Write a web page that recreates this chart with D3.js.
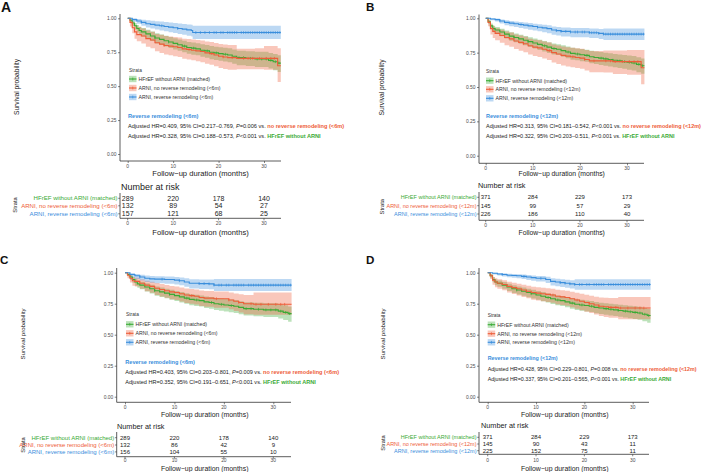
<!DOCTYPE html>
<html><head><meta charset="utf-8">
<script src="https://cdn.jsdelivr.net/npm/d3@7"></script>
<style>
body{margin:0;background:#fff}
svg{display:block}
text{font-family:"Liberation Sans",Arial,sans-serif}
</style>
</head><body>
<svg id="c" width="709" height="472"></svg>
<script>
// ---------------- DATA ----------------
// Kaplan–Meier step data: [time (months), survival, lower 95% CI, upper 95% CI]
const kmHFrEF6 = [[0,1,1,1],[0.5,.986,.972,.997],[1,.965,.943,.98],[1.5,.945,.918,.965],[2,.925,.895,.95],[2.5,.91,.878,.937],[3,.9,.866,.928],[4,.885,.849,.915],[5,.87,.832,.902],[6,.855,.815,.889],[7,.845,.804,.88],[8,.835,.793,.871],[9,.825,.782,.862],[10,.815,.771,.853],[11,.805,.76,.844],[12,.795,.749,.835],[13,.785,.738,.826],[14,.78,.732,.822],[15,.775,.727,.817],[16,.765,.716,.808],[17,.76,.71,.804],[18,.75,.699,.795],[19,.745,.693,.791],[20,.74,.688,.787],[21,.735,.682,.783],[22,.73,.676,.779],[23,.72,.665,.77],[24,.71,.654,.761],[26,.705,.648,.757],[28,.7,.642,.753],[31,.69,.63,.745],[32,.68,.618,.737],[33,.67,.604,.728],[33.7,.67,.604,.728]];
const kmNoRev6A = [[0,1,1,1],[0.5,.97,.94,.99],[1,.93,.89,.97],[1.5,.9,.85,.95],[2,.88,.83,.935],[3,.87,.815,.925],[4,.85,.79,.91],[5,.84,.78,.9],[6,.82,.757,.885],[7,.81,.745,.878],[8,.8,.733,.87],[9,.795,.727,.866],[10,.79,.72,.862],[11,.785,.714,.858],[12,.775,.702,.85],[13,.77,.696,.847],[14,.765,.69,.843],[15,.76,.683,.84],[16,.755,.677,.836],[17,.745,.665,.829],[18,.74,.658,.826],[19,.73,.646,.818],[20,.72,.633,.81],[21,.715,.626,.807],[22,.71,.62,.803],[24,.705,.625,.775],[28,.705,.625,.78],[30,.705,.62,.795],[33,.65,.53,.78],[33.7,.65,.53,.78]];
const kmRev6A = [[0,1,1,1],[1,.99,.975,1],[2,.98,.96,.995],[3,.97,.946,.99],[4,.96,.932,.985],[5,.955,.925,.982],[6,.95,.918,.979],[7,.945,.911,.976],[8,.94,.904,.972],[9,.935,.898,.969],[10,.93,.892,.965],[11,.925,.885,.962],[12,.92,.879,.958],[13,.915,.872,.955],[14,.91,.866,.952],[14.3,.895,.848,.945],[33.7,.895,.848,.945]];

const kmHFrEF12 = [[0,1,1,1],[0.5,.975,.96,.99],[1,.945,.922,.963],[1.5,.925,.899,.946],[2,.915,.887,.937],[3,.9,.87,.924],[4,.885,.853,.911],[5,.87,.836,.898],[6,.86,.825,.889],[7,.85,.814,.88],[8,.84,.803,.871],[9,.83,.792,.862],[10,.82,.781,.853],[11,.81,.77,.844],[12,.8,.759,.835],[13,.79,.748,.826],[14,.78,.737,.817],[15,.775,.732,.812],[16,.765,.721,.803],[17,.755,.71,.794],[18,.745,.699,.785],[19,.74,.694,.781],[20,.735,.688,.776],[21,.73,.683,.772],[22,.72,.672,.763],[23,.715,.667,.758],[24,.71,.661,.754],[25,.705,.655,.75],[26,.7,.65,.745],[27,.695,.644,.741],[28,.69,.638,.737],[29,.685,.632,.733],[30,.68,.626,.729],[31,.675,.62,.725],[32,.665,.608,.716],[33,.655,.596,.708],[33.7,.655,.596,.708]];
const kmNoRev12B = [[0,1,1,1],[0.5,.97,.942,.99],[1,.925,.882,.955],[1.5,.905,.857,.94],[2,.89,.84,.928],[3,.875,.822,.916],[4,.86,.804,.904],[5,.85,.793,.896],[6,.835,.776,.883],[7,.825,.764,.874],[8,.815,.753,.865],[9,.8,.736,.852],[10,.79,.725,.844],[11,.785,.719,.84],[12,.775,.708,.831],[13,.765,.696,.823],[14,.75,.679,.81],[15,.74,.667,.802],[16,.73,.656,.794],[17,.725,.65,.79],[18,.72,.644,.786],[19,.715,.638,.782],[20,.71,.632,.778],[21,.7,.62,.77],[22,.69,.608,.762],[25,.69,.605,.765],[27,.685,.595,.765],[30,.685,.59,.77],[33,.64,.52,.77],[33.7,.64,.52,.77]];
const kmRev12B = [[0,1,1,1],[1,.995,.985,1],[2,.99,.977,.998],[3,.98,.963,.992],[4,.97,.95,.985],[5,.965,.943,.981],[6,.96,.936,.977],[7,.955,.93,.973],[8,.95,.924,.969],[9,.945,.917,.965],[10,.94,.911,.961],[11,.935,.905,.957],[12,.93,.898,.953],[13,.925,.892,.949],[14,.915,.88,.941],[15,.91,.874,.937],[16,.905,.868,.933],[18,.9,.862,.929],[22,.895,.856,.925],[24,.89,.849,.922],[25,.885,.842,.925],[33.7,.885,.84,.925]];

const kmNoRev6C = [[0,1,1,1],[0.5,.98,.955,.995],[1,.955,.92,.98],[1.5,.935,.895,.965],[2,.93,.888,.96],[3,.915,.87,.948],[4,.9,.851,.936],[5,.89,.839,.928],[6,.875,.821,.916],[7,.865,.809,.908],[8,.855,.797,.9],[9,.845,.785,.892],[10,.84,.779,.888],[11,.83,.767,.88],[12,.82,.755,.872],[13,.815,.749,.868],[14,.81,.743,.864],[15,.8,.731,.856],[16,.795,.725,.852],[18,.79,.718,.848],[21,.78,.705,.84],[22,.77,.692,.833],[23,.76,.68,.826],[24,.75,.665,.82],[26,.745,.66,.84],[33.7,.745,.66,.845]];
const kmRev6C = [[0,1,1,1],[1,.985,.965,.997],[2,.975,.95,.99],[3,.965,.937,.984],[4,.955,.924,.978],[5,.95,.918,.974],[6,.948,.915,.972],[8,.945,.911,.97],[10,.94,.905,.966],[11,.935,.899,.962],[12,.925,.886,.955],[13,.915,.873,.948],[15,.912,.869,.946],[17,.91,.866,.945],[18,.9,.852,.95],[33.7,.9,.85,.952]];

const kmNoRev12D = [[0,1,1,1],[0.5,.975,.95,.99],[1,.94,.902,.965],[1.5,.925,.883,.955],[2,.915,.871,.947],[3,.905,.859,.939],[4,.89,.841,.927],[5,.88,.829,.919],[6,.87,.817,.911],[7,.86,.805,.903],[8,.85,.794,.895],[9,.84,.782,.887],[10,.835,.776,.883],[11,.83,.77,.879],[12,.825,.764,.875],[13,.82,.758,.871],[14,.81,.746,.863],[15,.805,.74,.859],[16,.8,.734,.855],[17,.79,.722,.847],[18,.78,.71,.839],[19,.77,.698,.831],[20,.76,.686,.823],[21,.75,.674,.815],[22,.74,.662,.807],[23,.73,.65,.8],[24,.725,.643,.797],[25,.72,.636,.795],[27,.715,.625,.805],[33.7,.715,.62,.815]];
const kmRev12D = [[0,1,1,1],[1,.995,.985,1],[2,.99,.977,.998],[3,.985,.97,.995],[4,.98,.963,.992],[5,.978,.96,.99],[6,.975,.956,.988],[7,.97,.949,.985],[8,.965,.942,.981],[9,.96,.936,.978],[10,.955,.929,.974],[12,.945,.916,.967],[13,.93,.897,.955],[14,.925,.891,.951],[15,.92,.884,.947],[16,.915,.878,.943],[17,.91,.872,.94],[18,.905,.862,.948],[33.7,.905,.86,.95]];

// Censoring times (months)
const censHFrEF = [6,9,12.5,14.5,17.5,19.5,21.5,24.5,25.5,27,28.5,29.5,30.5,31.5,32.5,33.3];
const censNoRev = [8,13.5,18.5,21,23,25.5,26.5,27.5,29,30.5,31.5,32.3];
const censRev = [3,7.5,11,15,16,17,18,19,19.5,20.5,21,22,22.5,23,23.5,24,25,25.5,26,26.5,27,27.5,28,28.5,29,29.5,30,30.5,31,31.5,32,32.5,33,33.5];

// Group labels and colours
const groupKeys = ["hfref","norev","rev"];
const groupColors = ["#3AAA35","#EE5C38","#3A8EDC"];
const labels6 = ["HFrEF without ARNI (matched)","ARNI, no reverse remodeling (<6m)","ARNI, reverse remodeling (<6m)"];
const labels12 = ["HFrEF without ARNI (matched)","ARNI, no reverse remodeling (<12m)","ARNI, reverse remodeling (<12m)"];

// Number at risk at 0, 10, 20, 30 months
const riskTimes = [0,10,20,30];
const riskA = [[289,220,178,140],[132,89,54,27],[157,121,68,25]];
const riskB = [[371,284,229,173],[145,99,57,29],[226,186,110,40]];
const riskC = [[289,220,178,140],[132,86,42,9],[156,104,55,10]];
const riskD = [[371,284,229,173],[145,90,43,11],[225,152,75,11]];

// Axis ticks
const yTicks = [0,0.25,0.5,0.75,1];
const xTicks = [0,10,20,30];

// Annotations
const annA = {title:"Reverse remodeling (<6m)", l1:["Adjusted HR=0.409, 95% CI=0.217–0.769, ","P","=0.006 vs. ","no reverse remodeling (<6m)"], l2:["Adjusted HR=0.328, 95% CI=0.188–0.573, ","P","<0.001 vs. ","HFrEF without ARNI"]};
const annB = {title:"Reverse remodeling (<12m)", l1:["Adjusted HR=0.313, 95% CI=0.181–0.542, ","P","<0.001 vs. ","no reverse remodeling (<12m)"], l2:["Adjusted HR=0.322, 95% CI=0.203–0.511, ","P","<0.001 vs. ","HFrEF without ARNI"]};
const annC = {title:"Reverse remodeling (<6m)", l1:["Adjusted HR=0.403, 95% CI=0.203–0.801, ","P","=0.009 vs. ","no reverse remodeling (<6m)"], l2:["Adjusted HR=0.352, 95% CI=0.191–0.651, ","P","<0.001 vs. ","HFrEF without ARNI"]};
const annD = {title:"Reverse remodeling (<12m)", l1:["Adjusted HR=0.428, 95% CI=0.229–0.801, ","P","=0.008 vs. ","no reverse remodeling (<12m)"], l2:["Adjusted HR=0.337, 95% CI=0.201–0.565, ","P","<0.001 vs. ","HFrEF without ARNI"]};

// ---------------- LAYOUT ----------------
const panels = [
 {letter:"A", lx:1, ly:12, lsize:14, curves:[kmHFrEF6,kmNoRev6A,kmRev6A], labels:labels6, risk:riskA, ann:annA, annSize:5.62,
  axisX:120, x0:127.7, x30:264, xEnd:281, yOne:18.3, yZero:154, axisTop:14, axisBottom:161, tickY:165.8, xTitleY:173.5, xTitleX:200.5, xTitleSize:7.6,
  yTitleX:17, yTitleY:87, yTitleSize:6.7,
  legX:129, legStrataY:70, legY:[79,88,97],
  annX:128, annY:[116,126,136],
  rTitleX:121, rTitleY:187, rTitleSize:9, rRows:[198.3,205.8,213.8], rAxisTop:193, rAxisBottom:218.3, rTickY:222.8, rXTitleY:232, rNumSize:7, rLabSize:6.1, rStrataX:15, rStrataY:205},
 {letter:"B", lx:366, ly:10.5, lsize:11.6, curves:[kmHFrEF12,kmNoRev12B,kmRev12B], labels:labels12, risk:riskB, ann:annB, annSize:5.5,
  axisX:479, x0:485.7, x30:627, xEnd:644, yOne:18.3, yZero:155.7, axisTop:14.5, axisBottom:163.3, tickY:168, xTitleY:173.5, xTitleX:561.7, xTitleSize:6.8,
  yTitleX:382, yTitleY:87.5, yTitleSize:6.7,
  legX:486, legStrataY:71.7, legY:[80.7,89.3,98.3],
  annX:486, annY:[116,126,136],
  rTitleX:478, rTitleY:185.7, rTitleSize:7.3, rRows:[197.3,205.7,214], rAxisTop:192, rAxisBottom:220.3, rTickY:225, rXTitleY:232.3, rNumSize:6, rLabSize:5.5, rStrataX:381.7, rStrataY:206.7},
 {letter:"C", lx:0, ly:263.5, lsize:11.6, curves:[kmHFrEF6,kmNoRev6C,kmRev6C], labels:labels6, risk:riskC, ann:annC, annSize:5.56,
  axisX:116.7, x0:125, x30:273.3, xEnd:291, yOne:272.7, yZero:396.7, axisTop:268, axisBottom:402.3, tickY:407.3, xTitleY:415, xTitleX:204.7, xTitleSize:6.9,
  yTitleX:23, yTitleY:334, yTitleSize:6.1,
  legX:126, legStrataY:314.7, legY:[324.3,333.3,342.3],
  annX:125.3, annY:[362.3,372.3,382.3],
  rTitleX:117, rTitleY:426.7, rTitleSize:7.3, rRows:[437.7,445,451.9], rAxisTop:432, rAxisBottom:456.7, rTickY:460.7, rXTitleY:468.3, rNumSize:6, rLabSize:6, rStrataX:22.7, rStrataY:445},
 {letter:"D", lx:366, ly:263.5, lsize:11.6, curves:[kmHFrEF12,kmNoRev12D,kmRev12D], labels:labels12, risk:riskD, ann:annD, annSize:5.35,
  axisX:479, x0:487.7, x30:632.7, xEnd:649, yOne:272.7, yZero:396.7, axisTop:268, axisBottom:402.3, tickY:407.3, xTitleY:415, xTitleX:564.7, xTitleSize:6.9,
  yTitleX:383, yTitleY:334, yTitleSize:6.1,
  legX:487.7, legStrataY:315, legY:[324.7,333.7,342.3],
  annX:487.7, annY:[357.7,369,379],
  rTitleX:481, rTitleY:425.7, rTitleSize:7.3, rRows:[437.3,444,450.7], rAxisTop:432, rAxisBottom:454.3, rTickY:460, rXTitleY:468.3, rNumSize:6, rLabSize:5.5, rStrataX:383, rStrataY:443}
];
const censorSets = [censHFrEF, censNoRev, censRev];

// ---------------- DRAW ----------------
const svg = d3.select("#c");
svg.append("rect").attr("width",709).attr("height",472).attr("fill","#fff");
const AX = "#333333", TICK = "#4D4D4D";

function stepAt(data, t){ let v = data[0][1]; for (const d of data){ if (d[0] <= t) v = d[1]; else break; } return v; }

panels.forEach(p => {
  const g = svg.append("g");
  const x = d3.scaleLinear().domain([0,30]).range([p.x0, p.x30]);
  const y = d3.scaleLinear().domain([0,1]).range([p.yZero, p.yOne]);

  // panel letter
  g.append("text").attr("x",p.lx).attr("y",p.ly).attr("font-size",p.lsize).attr("font-weight","bold").attr("fill","#111").text(p.letter);

  // CI bands
  p.curves.forEach((data,i) => {
    g.append("path").datum(data)
      .attr("d", d3.area().curve(d3.curveStepAfter).x(d=>x(d[0])).y0(d=>y(d[2])).y1(d=>y(d[3])))
      .attr("fill", groupColors[i]).attr("fill-opacity", 0.34).attr("stroke","none");
  });
  // lines
  p.curves.forEach((data,i) => {
    g.append("path").datum(data)
      .attr("d", d3.line().curve(d3.curveStepAfter).x(d=>x(d[0])).y(d=>y(d[1])))
      .attr("fill","none").attr("stroke", groupColors[i]).attr("stroke-width",1.1);
    // censor marks
    g.append("g").selectAll("line").data(censorSets[i]).join("line")
      .attr("x1",t=>x(t)).attr("x2",t=>x(t))
      .attr("y1",t=>y(stepAt(data,t))-1.4).attr("y2",t=>y(stepAt(data,t))+1.4)
      .attr("stroke",groupColors[i]).attr("stroke-width",0.7);
  });

  // axes
  const ya = g.append("g").attr("transform",`translate(${p.axisX},0)`)
    .call(d3.axisLeft(y).tickValues(yTicks).tickFormat(d3.format(".2f")).tickSize(2).tickPadding(1.5));
  ya.select(".domain").remove();
  ya.selectAll("line").attr("stroke",AX).attr("stroke-width",0.6);
  ya.selectAll("text").attr("font-size",4.9).attr("fill",TICK).attr("font-family",'"Liberation Sans",Arial,sans-serif');
  g.append("line").attr("x1",p.axisX).attr("x2",p.axisX).attr("y1",p.axisTop).attr("y2",p.axisBottom).attr("stroke",AX).attr("stroke-width",0.8);
  const xa = g.append("g").attr("transform",`translate(0,${p.axisBottom})`)
    .call(d3.axisBottom(x).tickValues(xTicks).tickSize(2).tickPadding(1));
  xa.select(".domain").remove();
  xa.selectAll("line").attr("stroke",AX).attr("stroke-width",0.6);
  xa.selectAll("text").remove();
  g.append("g").selectAll("text").data(xTicks).join("text")
    .attr("x",d=>x(d)).attr("y",p.tickY).attr("dy","0.35em").attr("text-anchor","middle")
    .attr("font-size",4.9).attr("fill",TICK).text(d=>d);
  g.append("line").attr("x1",p.axisX).attr("x2",p.xEnd).attr("y1",p.axisBottom).attr("y2",p.axisBottom).attr("stroke",AX).attr("stroke-width",0.8);

  // axis titles
  g.append("text").attr("x",p.xTitleX).attr("y",p.xTitleY).attr("dy","0.35em").attr("text-anchor","middle")
    .attr("font-size",p.xTitleSize).attr("fill","#222").text("Follow\u2212up duration (months)");
  g.append("text").attr("transform",`translate(${p.yTitleX},${p.yTitleY}) rotate(-90)`).attr("dy","0.35em").attr("text-anchor","middle")
    .attr("font-size",p.yTitleSize).attr("fill","#222").text("Survival probability");

  // legend
  g.append("text").attr("x",p.legX).attr("y",p.legStrataY).attr("dy","0.35em").attr("font-size",4.8).attr("fill","#333").text("Strata");
  p.labels.forEach((lab,i) => {
    const ly = p.legY[i];
    g.append("rect").attr("x",p.legX).attr("y",ly-3.2).attr("width",7.5).attr("height",6.4)
      .attr("fill",groupColors[i]).attr("fill-opacity",0.34);
    g.append("line").attr("x1",p.legX).attr("x2",p.legX+7.5).attr("y1",ly).attr("y2",ly).attr("stroke",groupColors[i]).attr("stroke-width",1.1);
    g.append("line").attr("x1",p.legX+3.75).attr("x2",p.legX+3.75).attr("y1",ly-1.4).attr("y2",ly+1.4).attr("stroke",groupColors[i]).attr("stroke-width",0.7);
    g.append("text").attr("x",p.legX+9.5).attr("y",ly).attr("dy","0.35em").attr("font-size",5.2).attr("fill","#333").text(lab);
  });

  // annotation
  g.append("text").attr("x",p.annX).attr("y",p.annY[0]).attr("dy","0.35em").attr("font-size",p.annSize)
    .attr("font-weight","bold").attr("fill",groupColors[2]).text(p.ann.title);
  [p.ann.l1,p.ann.l2].forEach((parts,k) => {
    const t = g.append("text").attr("x",p.annX).attr("y",p.annY[k+1]).attr("dy","0.35em").attr("font-size",p.annSize).attr("fill","#222");
    t.append("tspan").text(parts[0]);
    t.append("tspan").attr("font-style","italic").text(parts[1]);
    t.append("tspan").text(parts[2]);
    t.append("tspan").attr("font-weight","bold").attr("fill", k===0 ? groupColors[1] : groupColors[0]).text(parts[3]);
  });

  // ---------- risk table ----------
  g.append("text").attr("x",p.rTitleX).attr("y",p.rTitleY).attr("dy","0.35em").attr("font-size",p.rTitleSize).attr("fill","#222").text("Number at risk");
  g.append("line").attr("x1",p.axisX).attr("x2",p.axisX).attr("y1",p.rAxisTop).attr("y2",p.rAxisBottom).attr("stroke",AX).attr("stroke-width",0.8);
  g.append("line").attr("x1",p.axisX).attr("x2",p.xEnd).attr("y1",p.rAxisBottom).attr("y2",p.rAxisBottom).attr("stroke",AX).attr("stroke-width",0.8);
  groupKeys.forEach((key,i) => {
    const yy = p.rRows[i];
    g.append("line").attr("x1",p.axisX-1.8).attr("x2",p.axisX).attr("y1",yy).attr("y2",yy).attr("stroke",AX).attr("stroke-width",0.6);
    g.append("text").attr("x",p.axisX-2.5).attr("y",yy).attr("dy","0.35em").attr("text-anchor","end")
      .attr("font-size",p.rLabSize).attr("fill",groupColors[i]).text(p.labels[i]);
    g.append("g").selectAll("text").data(riskTimes.map((t,j)=>({t, n:p.risk[i][j]}))).join("text")
      .attr("x",d=>x(d.t)).attr("y",yy).attr("dy","0.35em").attr("text-anchor","middle")
      .attr("font-size",p.rNumSize).attr("fill","#222").text(d=>d.n);
  });
  g.append("g").selectAll("line").data(xTicks).join("line")
    .attr("x1",d=>x(d)).attr("x2",d=>x(d)).attr("y1",p.rAxisBottom).attr("y2",p.rAxisBottom+2).attr("stroke",AX).attr("stroke-width",0.6);
  g.append("g").selectAll("text").data(xTicks).join("text")
    .attr("x",d=>x(d)).attr("y",p.rTickY).attr("dy","0.35em").attr("text-anchor","middle")
    .attr("font-size",4.9).attr("fill",TICK).text(d=>d);
  g.append("text").attr("x",p.xTitleX).attr("y",p.rXTitleY).attr("dy","0.35em").attr("text-anchor","middle")
    .attr("font-size",p.xTitleSize).attr("fill","#222").text("Follow\u2212up duration (months)");
  g.append("text").attr("transform",`translate(${p.rStrataX},${p.rStrataY}) rotate(-90)`).attr("dy","0.35em").attr("text-anchor","middle")
    .attr("font-size",5.8).attr("fill","#222").text("Strata");
});
</script>
</body></html>
